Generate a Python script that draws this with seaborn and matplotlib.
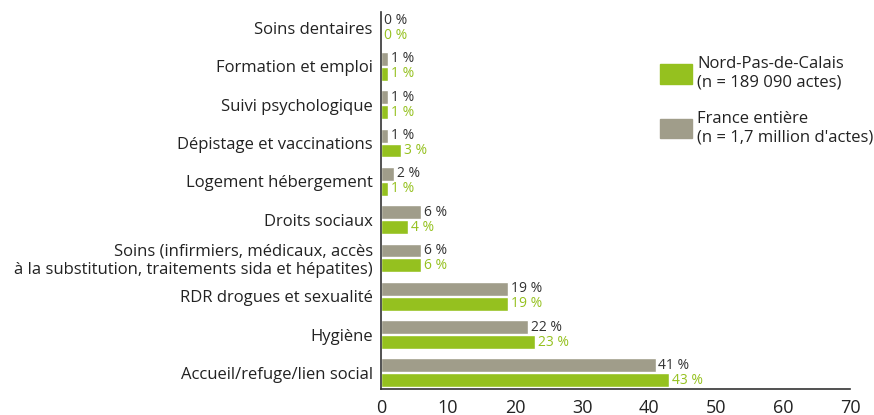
import pandas as pd
import matplotlib.pyplot as plt
import seaborn as sns
from matplotlib.patches import Patch

categories = [
    "Soins dentaires",
    "Formation et emploi",
    "Suivi psychologique",
    "Dépistage et vaccinations",
    "Logement hébergement",
    "Droits sociaux",
    "Soins (infirmiers, médicaux, accès\nà la substitution, traitements sida et hépatites)",
    "RDR drogues et sexualité",
    "Hygiène",
    "Accueil/refuge/lien social",
]
france = [0, 1, 1, 1, 2, 6, 6, 19, 22, 41]
npdc = [0, 1, 1, 3, 1, 4, 6, 19, 23, 43]

series = ["France entière", "Nord-Pas-de-Calais"]
legend_labels = {
    "Nord-Pas-de-Calais": "Nord-Pas-de-Calais\n(n = 189 090 actes)",
    "France entière": "France entière\n(n = 1,7 million d'actes)",
}
GREEN = "#95C11F"
GREY = "#A09D8A"
palette = {"France entière": GREY, "Nord-Pas-de-Calais": GREEN}

df = pd.DataFrame({
    "Catégorie": categories * 2,
    "Série": [series[0]] * len(categories) + [series[1]] * len(categories),
    "Pourcentage": france + npdc,
})

sns.set_style("white")
plt.rcParams["font.family"] = ["Open Sans", "DejaVu Sans"]

fig, ax = plt.subplots(figsize=(8.74, 4.15), dpi=100)
fig.subplots_adjust(left=0.436, right=0.9725, bottom=0.0627, top=0.971)

sns.barplot(data=df, y="Catégorie", x="Pourcentage", hue="Série",
            hue_order=series, palette=palette, order=categories,
            orient="h", width=0.78, gap=0.07, saturation=1, ax=ax,
            legend=False)

for cont, col in zip(ax.containers, ["#333333", GREEN]):
    ax.bar_label(cont, fmt="{:.0f} %", padding=2, color=col, fontsize=10)

ax.set_xlim(0, 70)
ax.set_ylim(9.42, -0.42)
ax.set_xticks(range(0, 71, 10))
ax.set_xlabel("")
ax.set_ylabel("")
sns.despine(ax=ax)
for s in ["left", "bottom"]:
    ax.spines[s].set_color("#333333")
    ax.spines[s].set_linewidth(1.2)
ax.tick_params(axis="x", direction="out", length=5, width=1, color="#333333",
               labelsize=13, colors="#222222", pad=2)
ax.tick_params(axis="y", length=0, labelsize=12, colors="#222222", pad=6)

handles = [Patch(color=GREEN), Patch(color=GREY)]
fig.legend(handles, [legend_labels["Nord-Pas-de-Calais"], legend_labels["France entière"]],
           loc="upper left", bbox_to_anchor=(652 / 874, 1 - 48 / 415),
           frameon=False, fontsize=12, handlelength=1.9, handleheight=1.4,
           handletextpad=0.3, labelspacing=1.2, borderpad=0, labelcolor="#222222")

fig.savefig("out.png", dpi=100)
